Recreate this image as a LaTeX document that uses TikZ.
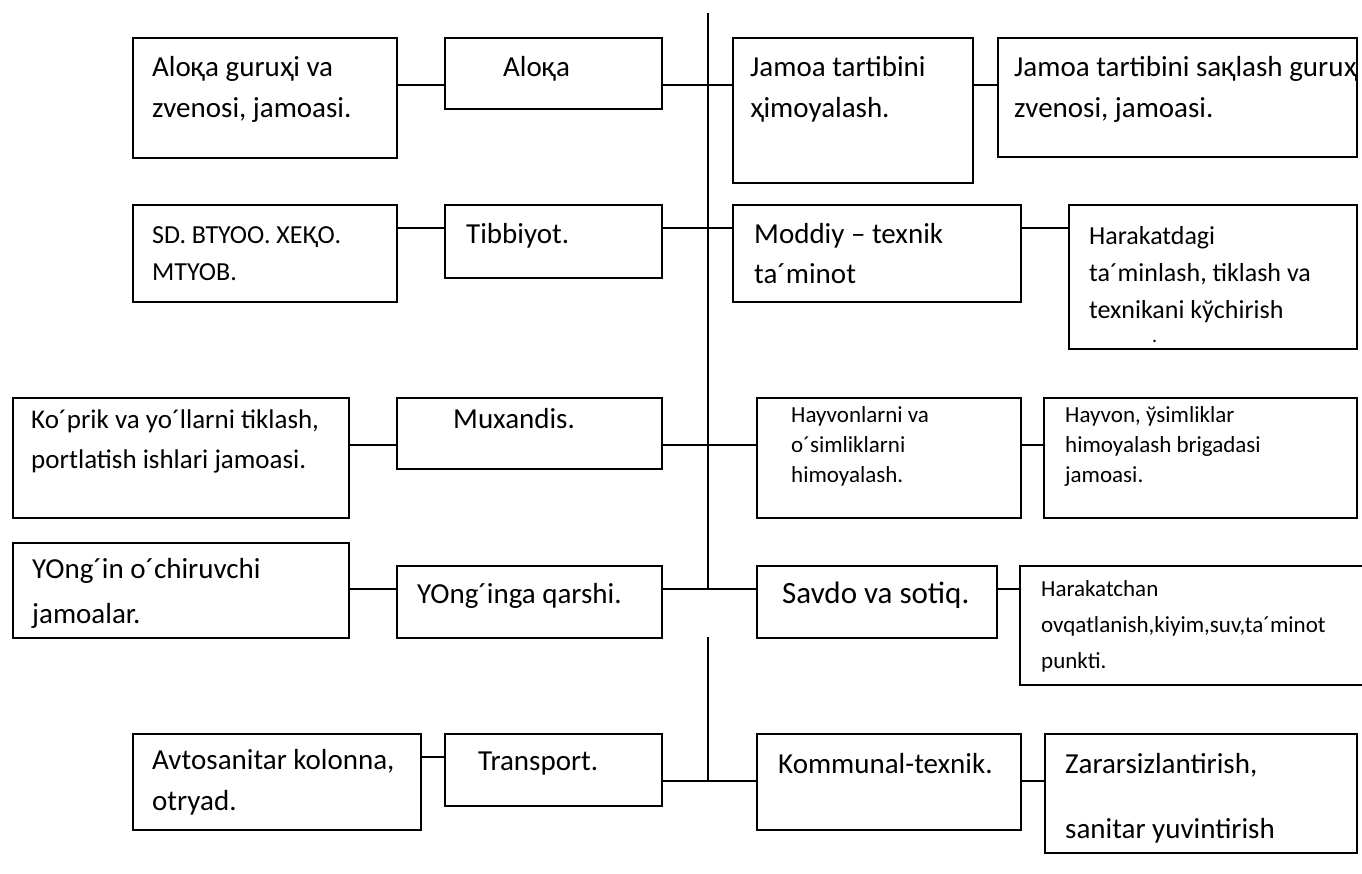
\documentclass[tikz,border=0pt]{standalone}
\usepackage{fontspec}
\setmainfont{Carlito}
\begin{document}
\begin{tikzpicture}[x=1pt,y=-1pt,
  box/.style={draw, line width=2.3pt, anchor=north west, inner sep=0pt},
  sz/.style 2 args={minimum width=#1pt, minimum height=#2pt},
  link/.style={line width=2.3pt},
  txt/.style={anchor=base west, inner sep=0pt, align=left},
  fA/.style={font=\fontsize{29}{41}\selectfont},
  fB/.style={font=\fontsize{26}{37}\selectfont},
  fC/.style={font=\fontsize{27}{40}\selectfont},
  fD/.style={font=\fontsize{23}{30}\selectfont},
  fE/.style={font=\fontsize{23}{36}\selectfont},
  fS/.style={font=\fontsize{31}{41}\selectfont},
]
\useasboundingbox (0,0) rectangle (1362,873);
\clip (0,0) rectangle (1362,873);
% boxes
\node[box, sz={264}{120}] (a1) at (132,37) {};
\node[box, sz={217}{71}] (aloqa) at (444,37) {};
\node[box, sz={240}{145}] (j1) at (732,37) {};
\node[box, sz={359}{119}] (j2) at (997,37) {};
\node[box, sz={264}{97}] (sd) at (132,204) {};
\node[box, sz={217}{73}] (tib) at (444,204) {};
\node[box, sz={288}{97}] (mod) at (732,204) {};
\node[box, sz={288}{144}] (har) at (1068,204) {};
\node[box, sz={336}{120}] (kop) at (12,397) {};
\node[box, sz={265}{71}] (mux) at (396,397) {};
\node[box, sz={264}{120}] (hay1) at (756,397) {};
\node[box, sz={313}{120}] (hay2) at (1043,397) {};
\node[box, sz={336}{95}] (yon1) at (12,542) {};
\node[box, sz={265}{72}] (yon2) at (396,565) {};
\node[box, sz={240}{72}] (sav) at (756,565) {};
\node[box, sz={360}{119}] (hk) at (1019,565) {};
\node[box, sz={288}{96}] (avto) at (132,733) {};
\node[box, sz={217}{72}] (trans) at (444,733) {};
\node[box, sz={264}{96}] (kom) at (756,733) {};
\node[box, sz={312}{119}] (zar) at (1044,733) {};
% spine
\coordinate (top) at (708,13);
\coordinate (gapA) at (708,589);
\coordinate (gapB) at (708,637);
\coordinate (bot) at (708,781);
\draw[link] (top) -- (gapA);
\draw[link] (gapB) -- (bot);
% connectors
\draw[link] (a1.east |- 0,85) -- (aloqa.west |- 0,85);
\draw[link] (aloqa.east |- 0,85) -- (j1.west |- 0,85);
\draw[link] (j1.east |- 0,85) -- (j2.west |- 0,85);
\draw[link] (sd.east |- 0,228) -- (tib.west |- 0,228);
\draw[link] (tib.east |- 0,228) -- (mod.west |- 0,228);
\draw[link] (mod.east |- 0,228) -- (har.west |- 0,228);
\draw[link] (kop.east |- 0,445) -- (mux.west |- 0,445);
\draw[link] (mux.east |- 0,445) -- (hay1.west |- 0,445);
\draw[link] (hay1.east |- 0,445) -- (hay2.west |- 0,445);
\draw[link] (yon1.east |- 0,589) -- (yon2.west |- 0,589);
\draw[link] (yon2.east |- 0,589) -- (sav.west |- 0,589);
\draw[link] (sav.east |- 0,589) -- (hk.west |- 0,589);
\draw[link] (avto.east |- 0,757) -- (trans.west |- 0,757);
\draw[link] (trans.east |- 0,781) -- (kom.west |- 0,781);
\draw[link] (kom.east |- 0,781) -- (zar.west |- 0,781);
% texts (anchor = baseline of the last line)
\node[txt, fA] (ta1) at (152,117) {Aloқa guruҳi va\\zvenosi, jamoasi.};
\node[txt, fA] (taloqa) at (503,76) {Aloқa};
\node[txt, fA] (tj1) at (750,117) {Jamoa tartibini\\ҳimoyalash.};
\begin{scope}
\clip (j2.north west) rectangle (j2.south east);
\node[txt, fA] (tj2) at (1014,117) {Jamoa tartibini saқlash guruҳ\\zvenosi, jamoasi.};
\end{scope}
\node[txt, fB] (tsd) at (152,280) {SD. BTYOO. XEҚO.\\MTYOB.};
\node[txt, fA] (ttib) at (466,243) {Tibbiyot.};
\node[txt, font=\fontsize{29}{40}\selectfont] (tmod) at (754,283) {Moddiy – texnik\\ta´minot};
\node[txt, fB] (thar) at (1089,318) {Harakatdagi\\ta´minlash, tiklash va\\texnikani kўchirish};
\node[txt, font=\fontsize{20}{20}\selectfont] (tdot) at (1152,342) {.};
\node[txt, fC] (tkop) at (31,468) {Ko´prik va yo´llarni tiklash,\\portlatish ishlari jamoasi.};
\node[txt, fA] (tmux) at (453,428) {Muxandis.};
\node[txt, fD] (thay1) at (791,482) {Hayvonlarni va\\o´simliklarni\\himoyalash.};
\node[txt, fD] (thay2) at (1065,482) {Hayvon, ўsimliklar\\himoyalash brigadasi\\jamoasi.};
\node[txt, font=\fontsize{29}{45}\selectfont] (tyon1) at (32,623) {YOng´in o´chiruvchi\\jamoalar.};
\node[txt, fA] (tyon2) at (417,603) {YOng´inga qarshi.};
\node[txt, fS] (tsav) at (782,603) {Savdo va sotiq.};
\node[txt, fE] (thk) at (1041,668) {Harakatchan\\ovqatlanish,kiyim,suv,ta´minot\\punkti.};
\node[txt, fA] (tavto) at (152,810) {Avtosanitar kolonna,\\otryad.};
\node[txt, fA] (ttrans) at (478,770) {Transport.};
\node[txt, fA] (tkom) at (778,773) {Kommunal-texnik.};
\node[txt, font=\fontsize{29}{65}\selectfont] (tzar) at (1065,838) {Zararsizlantirish,\\sanitar yuvintirish};
\end{tikzpicture}
\end{document}
